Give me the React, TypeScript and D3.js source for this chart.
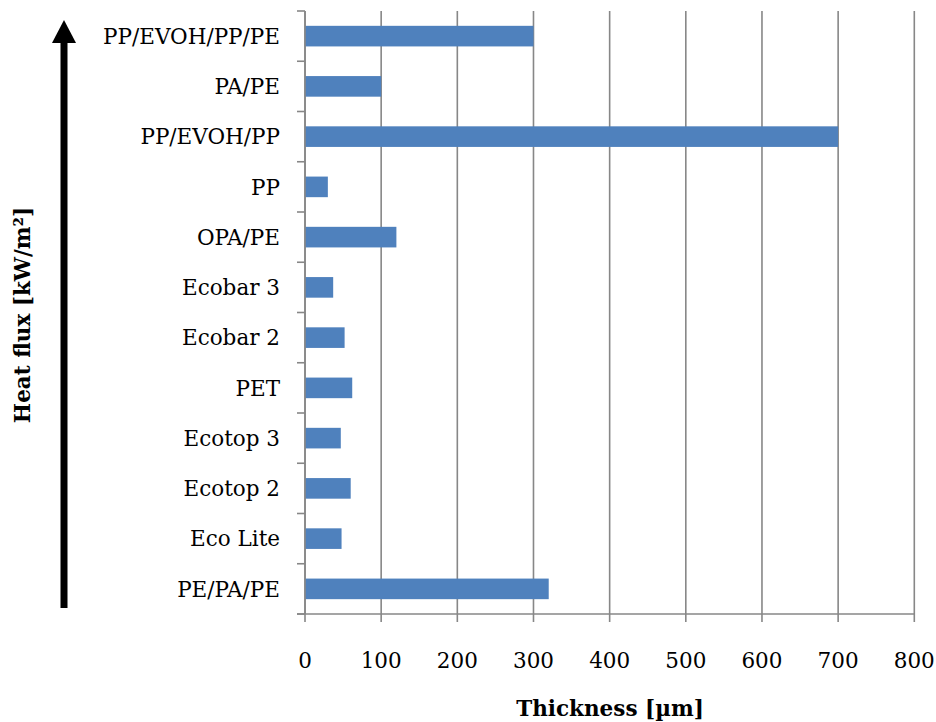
import React from "react";
import * as d3 from "d3";

// Film types, listed top to bottom
const categories = [
  "PP/EVOH/PP/PE",
  "PA/PE",
  "PP/EVOH/PP",
  "PP",
  "OPA/PE",
  "Ecobar 3",
  "Ecobar 2",
  "PET",
  "Ecotop 3",
  "Ecotop 2",
  "Eco Lite",
  "PE/PA/PE",
];

// Thickness in µm
const thickness = [300, 100, 700, 30, 120, 37, 52, 62, 47, 60, 48, 320];

const xTicks = [0, 100, 200, 300, 400, 500, 600, 700, 800];

const W = 936;
const H = 722;
const left = 305;
const right = 914.3;
const top = 11;
const bottom = 614;

const FONT = "'DejaVu Serif', serif";
const GRID = "#878787";
const BAR = "#4F81BD";

export default function App() {
  const x = d3.scaleLinear().domain([0, 800]).range([left, right]);
  const y = d3
    .scaleBand<string>()
    .domain(categories)
    .range([top, bottom])
    .paddingInner(0.59)
    .paddingOuter(0.295);
  const step = y.step();
  const boundaries = d3.range(categories.length + 1).map((i) => top + i * step);

  return (
    <div style={{ position: "absolute", left: 0, top: 0 }}>
      <svg width={W} height={H} style={{ display: "block", background: "#fff" }}>
        {/* vertical gridlines */}
        {xTicks.map((t) => (
          <line
            key={"g" + t}
            x1={x(t)}
            x2={x(t)}
            y1={top}
            y2={bottom}
            stroke={GRID}
            strokeWidth={1.6}
          />
        ))}

        {/* bars */}
        {categories.map((c, i) => (
          <rect
            key={c}
            x={x(0)}
            y={y(c)!}
            width={x(thickness[i]) - x(0)}
            height={y.bandwidth()}
            fill={BAR}
          />
        ))}

        {/* value axis */}
        <line x1={297} x2={right} y1={bottom} y2={bottom} stroke={GRID} strokeWidth={1.6} />
        {xTicks.map((t) => (
          <g key={"t" + t}>
            <line x1={x(t)} x2={x(t)} y1={bottom} y2={bottom + 8} stroke={GRID} strokeWidth={1.6} />
            <text
              x={x(t)}
              y={668}
              textAnchor="middle"
              fontFamily={FONT}
              fontSize={21.5}
              fill="#000"
            >
              {t}
            </text>
          </g>
        ))}

        {/* category axis */}
        <line x1={left} x2={left} y1={top} y2={bottom} stroke={GRID} strokeWidth={1.6} />
        {boundaries.map((b, i) => (
          <line key={"yt" + i} x1={297} x2={left} y1={b} y2={b} stroke={GRID} strokeWidth={1.6} />
        ))}
        {categories.map((c) => (
          <text
            key={"l" + c}
            x={280}
            y={y(c)! + y.bandwidth() / 2}
            dy="0.36em"
            textAnchor="end"
            fontFamily={FONT}
            fontSize={21.5}
            fill="#000"
          >
            {c}
          </text>
        ))}

        {/* axis titles */}
        <text
          x={610}
          y={716}
          textAnchor="middle"
          fontFamily={FONT}
          fontWeight="bold"
          fontSize={21.5}
          fill="#000"
        >
          Thickness [µm]
        </text>
        <text
          transform="translate(30,315) rotate(-90)"
          textAnchor="middle"
          fontFamily={FONT}
          fontWeight="bold"
          fontSize={21.5}
          fill="#000"
        >
          Heat flux [kW/m²]
        </text>

        {/* upward arrow */}
        <rect x={60.5} y={42} width={7} height={566} fill="#000" />
        <polygon points="64,20 52,43 76,43" fill="#000" />
      </svg>
    </div>
  );
}
